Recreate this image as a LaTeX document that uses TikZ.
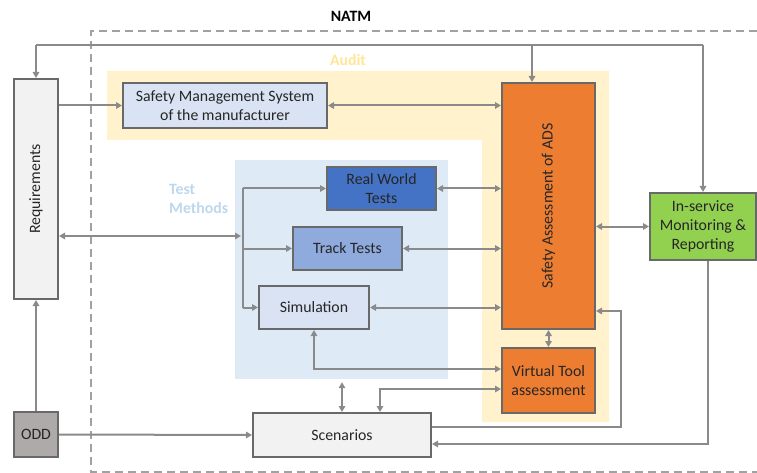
\documentclass[tikz,border=0pt]{standalone}
\usepackage{fontspec}
\setmainfont{Carlito}
\usetikzlibrary{arrows.meta}
\definecolor{linegray}{RGB}{138,138,138}
\definecolor{bordergray}{RGB}{105,105,105}
\definecolor{auditbg}{RGB}{255,242,204}
\definecolor{audittxt}{RGB}{255,230,153}
\definecolor{tmbg}{RGB}{222,235,247}
\definecolor{tmtxt}{RGB}{189,215,238}
\definecolor{paleblue}{RGB}{218,227,243}
\definecolor{darkblue}{RGB}{68,114,196}
\definecolor{midblue}{RGB}{143,170,220}
\definecolor{adsorange}{RGB}{237,125,49}
\definecolor{ismgreen}{RGB}{146,208,80}
\definecolor{lightgray}{RGB}{242,242,242}
\definecolor{oddgray}{RGB}{174,170,170}
\tikzset{
  box/.style={draw=bordergray, line width=2pt, inner sep=0pt, align=center,
    text=black!85, font=\fontsize{15.8}{19}\selectfont},
  bgbox/.style={inner sep=0pt, draw=none},
  line/.style={draw=linegray, line width=2pt},
  arr/.style={line, -{Triangle[length=6pt,width=6.5pt]}},
  darr/.style={line, {Triangle[length=6pt,width=6.5pt]}-{Triangle[length=6pt,width=6.5pt]}},
  natm/.style={draw=linegray!80, line width=1.4pt, dash pattern=on 8pt off 5pt},
}
\begin{document}
\begin{tikzpicture}[x=1pt,y=-1pt]
\useasboundingbox (0,0) rectangle (757,473);
\fill[auditbg] (107,71) -- (609,71) -- (609,422) -- (482,422) -- (482,140) -- (107,140) -- cycle;
\node[bgbox, fill=tmbg, minimum width=213pt, minimum height=219pt] (tm) at (341.5,269.5) {};
\draw[natm] (760,472) -- (91,472) -- (91,31) -- (760,31);

\node[font=\fontsize{15.8}{19}\selectfont\bfseries] (natmlbl) at (351,16) {NATM};
\node[font=\fontsize{15.8}{19}\selectfont\bfseries, text=audittxt] (auditlbl) at (348,60) {Audit};
\node[font=\fontsize{15.8}{19}\selectfont\bfseries, text=tmtxt, align=left, anchor=west, inner sep=0pt] (tmlbl) at (169,199) {Test\\Methods};

\node[box, fill=lightgray, minimum width=44pt, minimum height=220pt] (req) at (36,189) {\rotatebox{90}{Requirements}};
\node[box, fill=oddgray, minimum width=44pt, minimum height=45pt] (odd) at (36,434.5) {ODD};
\node[box, fill=paleblue, minimum width=204pt, minimum height=45pt] (sms) at (225,105.5) {Safety Management System\\of the manufacturer};
\node[box, fill=adsorange, minimum width=93pt, minimum height=246pt] (sa) at (548.5,206) {\rotatebox{90}{Safety Assessment of ADS}};
\node[box, fill=darkblue, minimum width=109pt, minimum height=43pt] (rwt) at (381.5,188.5) {Real World\\Tests};
\node[box, fill=midblue, minimum width=109pt, minimum height=43pt] (tt) at (347.5,248.5) {Track Tests};
\node[box, fill=paleblue, minimum width=110pt, minimum height=43pt] (sim) at (314,307.5) {Simulation};
\node[box, fill=adsorange, minimum width=93pt, minimum height=65pt] (vt) at (548.5,380.5) {Virtual Tool\\assessment};
\node[box, fill=lightgray, minimum width=178pt, minimum height=44pt] (scen) at (342,435) {Scenarios};
\node[box, fill=ismgreen, minimum width=106pt, minimum height=67pt] (ism) at (703,226.5) {In-service\\Monitoring \&\\Reporting};

\coordinate (top) at (0,45);
\coordinate (bus) at (243,236);
\coordinate (saIn) at ([xshift=-16.5pt]sa.north);
\coordinate (rt) at (621,311);

\draw[line] (req.north |- top) -- (ism.north |- top);
\foreach \n in {req,saIn,ism}
  \draw[arr] (\n.north |- top) -- (\n.north);
\draw[arr] (req.east |- sms.west) -- (sms.west);
\draw[darr] (sms.east) -- (sms.east -| sa.west);
\draw[darr] (req.east |- bus) -- ([xshift=-2pt]bus);
\draw[line] (bus |- rwt.west) -- (bus |- sim.west);
\foreach \n in {rwt,tt,sim}{
  \draw[arr] (bus |- \n.west) -- (\n.west);
  \draw[darr] (\n.east) -- (\n.east -| sa.west);
}
\draw[darr] (ism.west -| sa.east) -- (ism.west);
\draw[darr] (sa.south) -- (vt.north);
\draw[darr] (sim.south) |- ([yshift=11.5pt]vt.west);
\draw[darr] ([yshift=-8.5pt]vt.west) -| ([xshift=38pt]scen.north);
\draw[darr] (scen.north) -- ([yshift=-3pt]scen.north |- tm.south);
\draw[arr] ([yshift=8pt]scen.east) -| (rt) -- (rt -| sa.east);
\draw[arr] ([xshift=5pt]ism.south) |- ([yshift=-9pt]scen.east);
\draw[arr] (odd.north) -- (req.south);
\draw[arr] (odd.east) -- (scen.west);
\end{tikzpicture}
\end{document}
